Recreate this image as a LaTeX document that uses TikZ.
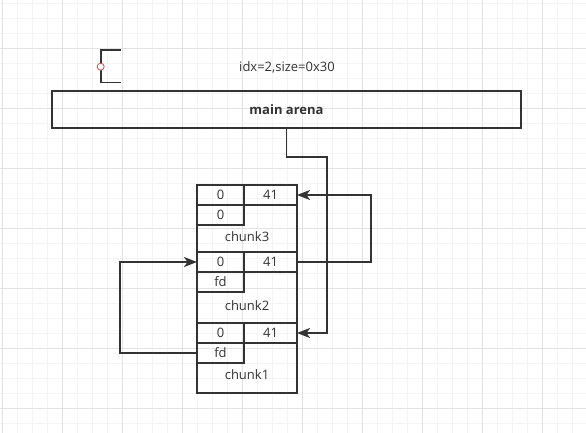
\documentclass[tikz,border=0pt]{standalone}
\usepackage{fontspec}
\setmainfont{Open Sans}
\usepackage{tikz}
\usetikzlibrary{arrows.meta}
\usetikzlibrary{positioning}

\definecolor{inkgray}{HTML}{333333}
\definecolor{gridminor}{HTML}{F4F4F4}
\definecolor{gridmajor}{HTML}{E2E2E2}
\definecolor{pinred}{HTML}{B85450}

\tikzset{
  cell/.style={draw=inkgray, line width=1.6pt, minimum height=20pt, inner sep=0pt, outer sep=0pt,
    font=\fontsize{13}{15}\selectfont, text=inkgray},
  chunkbox/.style={draw=inkgray, line width=1.6pt, minimum width=100pt, inner sep=0pt, outer sep=0pt},
  lbl/.style={font=\fontsize{13}{15}\selectfont, text=inkgray, inner sep=0pt},
  link/.style={inkgray, line width=1.6pt, -{Stealth[length=13pt,width=10pt,inset=3.5pt]}},
}

\begin{document}
\begin{tikzpicture}[x=1pt,y=-1pt]
  % canvas and grid
  \useasboundingbox[fill=white] (0,0) rectangle (586,433);
  \foreach \gx in {2,17,...,587} \draw[gridminor, line width=0.6pt] (\gx,0) -- (\gx,433);
  \foreach \gy in {3,18,...,433} \draw[gridminor, line width=0.6pt] (0,\gy) -- (586,\gy);
  \foreach \gx in {2,62,...,587} \draw[gridmajor, line width=0.6pt] (\gx,0) -- (\gx,433);
  \foreach \gy in {48,108,...,433} \draw[gridmajor, line width=0.6pt] (0,\gy) -- (586,\gy);

  % bin marker
  \draw[inkgray, line width=1.6pt] (120.7,50) -- (100.7,50) -- (100.7,82.7) -- (120.7,82.7);
  \draw[pinred, fill=white, line width=0.8pt] (100.7,66.7) circle (3.5pt);
  \node[lbl] (bininfo) at (287,67) {idx=2,size=0x30};

  % main arena
  \node[cell, anchor=north west, minimum width=469pt, minimum height=37pt] (arena) at (52,91) {\textbf{main arena}};

  % chunks
  \node[chunkbox, anchor=north west, minimum height=67pt] (chunk3) at (197,185) {};
  \node[chunkbox, anchor=north west, minimum height=71pt] (chunk2) at (197,252) {};
  \node[chunkbox, anchor=north west, minimum height=70pt] (chunk1) at (197,323) {};

  \node[cell, minimum width=47pt, anchor=north west] (c3prev) at (chunk3.north west) {0};
  \node[cell, minimum width=53pt, right=0pt of c3prev] (c3size) {41};
  \node[cell, minimum width=47pt, below=0pt of c3prev] (c3fd) {0};
  \node[lbl] (c3name) at ([yshift=15pt]chunk3.south) {chunk3};

  \node[cell, minimum width=47pt, anchor=north west] (c2prev) at (chunk2.north west) {0};
  \node[cell, minimum width=53pt, right=0pt of c2prev] (c2size) {41};
  \node[cell, minimum width=47pt, below=0pt of c2prev] (c2fd) {fd};
  \node[lbl] (c2name) at ([yshift=17pt]chunk2.south) {chunk2};

  \node[cell, minimum width=47pt, anchor=north west] (c1prev) at (chunk1.north west) {0};
  \node[cell, minimum width=53pt, right=0pt of c1prev] (c1size) {41};
  \node[cell, minimum width=47pt, below=0pt of c1prev] (c1fd) {fd};
  \node[lbl] (c1name) at ([yshift=18pt]chunk1.south) {chunk1};

  % fd links
  \coordinate (binturn) at (327,157);
  \draw[link] (arena.south) |- (binturn) |- (c1size.east);
  \draw[link] (c2size.east) -- ++(74,0) |- (c3size.east);
  \draw[link] (c1fd.west) -- ++(-77,0) |- (c2prev.west);
\end{tikzpicture}
\end{document}
